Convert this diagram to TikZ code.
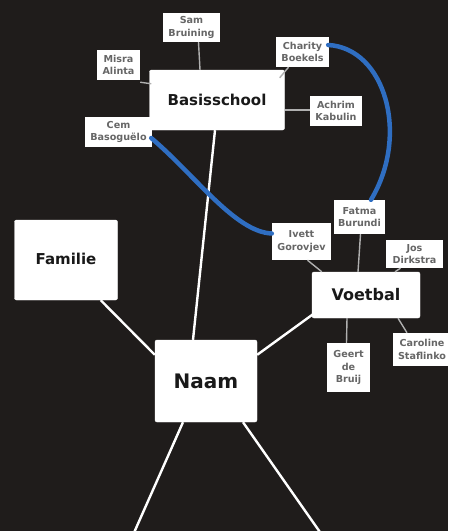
\documentclass[tikz,border=0pt]{standalone}
\usepackage{fontspec}
\setmainfont{DejaVu Sans}
\usetikzlibrary{calc}
\definecolor{bg}{HTML}{1F1C1B}
\definecolor{linkblue}{HTML}{2F6EC2}
\definecolor{labelgray}{HTML}{666666}
\definecolor{thin}{HTML}{B0B0B0}
\tikzset{
  bigbox/.style={fill=white, draw=white, rounded corners=2pt, inner sep=0pt, text=black!90, font=\bfseries},
  namebox/.style={fill=white, draw=none, inner sep=0pt, align=center, text=labelgray,
    font=\bfseries\fontsize{9.6}{12.5}\selectfont},
  mainline/.style={draw=white, line width=2.4pt},
  subline/.style={draw=thin, line width=1.4pt},
  bluelink/.style={draw=linkblue, line width=4.5pt, line cap=round}
}
\begin{document}
\begin{tikzpicture}[x=1pt,y=-1pt]
\useasboundingbox[fill=bg] (0,0) rectangle (448,531);
% main boxes
\node[bigbox, minimum width=135pt, minimum height=60pt, font=\bfseries\fontsize{15}{18}\selectfont] (basis) at (217,100) {Basisschool};
\node[bigbox, minimum width=103pt, minimum height=80pt, font=\bfseries\fontsize{15}{18}\selectfont] (fam) at (66,260) {\raisebox{2pt}{Familie}};
\node[bigbox, minimum width=108pt, minimum height=46pt, font=\bfseries\fontsize{16}{19}\selectfont] (voet) at (366,295) {Voetbal};
\node[bigbox, minimum width=102pt, minimum height=82pt, font=\bfseries\fontsize{20}{24}\selectfont] (naam) at (206,381) {Naam};
% name boxes
\node[namebox, minimum width=57pt, minimum height=29pt] (sam) at (191.5,27.5) {Sam\\Bruining};
\node[namebox, minimum width=43pt, minimum height=30pt] (misra) at (118.5,65) {Misra\\Alinta};
\node[namebox, minimum width=53pt, minimum height=30pt] (char) at (302.5,52) {Charity\\Boekels};
\node[namebox, minimum width=52pt, minimum height=30pt] (achrim) at (336,111) {Achrim\\Kabulin};
\node[namebox, minimum width=67pt, minimum height=30pt] (cem) at (118.5,132) {Cem\\Basoguëlo};
\node[namebox, minimum width=51pt, minimum height=34pt] (fatma) at (359.5,217) {Fatma\\Burundi};
\node[namebox, minimum width=59pt, minimum height=37pt] (ivett) at (301.5,241.5) {Ivett\\Gorovjev};
\node[namebox, minimum width=57pt, minimum height=28pt] (jos) at (414.5,254) {Jos\\Dirkstra};
\node[namebox, minimum width=43pt, minimum height=49pt] (geert) at (348.5,367.5) {Geert\\de\\Bruij};
\node[namebox, minimum width=59pt, minimum height=33pt] (car) at (422,349.5) {Caroline\\Staflinko};
% free ends
\coordinate (offL) at (133,535);
\coordinate (offR) at (322,535);
% main connectors
\draw[mainline] ([xshift=-2pt]basis.south) -- ([xshift=-13pt]naam.north);
\draw[mainline] ([xshift=-17pt]fam.south east) -- ([yshift=-15pt]naam.north west);
\draw[mainline] ([yshift=-15pt]naam.north east) -- ([xshift=4pt,yshift=6pt]voet.south west);
\draw[mainline] ([xshift=-23pt]naam.south) -- (offL);
\draw[mainline] ([xshift=37pt]naam.south) -- (offR);
% sub connectors
\draw[subline] ([yshift=-2pt]misra.south east) -- ([xshift=2pt,yshift=-14pt]basis.north west);
\draw[subline] ([xshift=7pt]sam.south) -- ([xshift=-17pt]basis.north);
\draw[subline] ([xshift=-14pt]char.south) -- ([xshift=-5pt,yshift=-8pt]basis.north east);
\draw[subline] ([yshift=1pt]achrim.west) -- ([yshift=-10pt]basis.east);
\draw[subline] ([xshift=6pt]ivett.south) -- ([xshift=10pt]voet.north west);
\draw[subline] ([xshift=1pt]fatma.south) -- ([xshift=-8pt]voet.north);
\draw[subline] ([xshift=-14pt]jos.south) -- ([xshift=29pt]voet.north);
\draw[subline] ([xshift=-19pt]voet.south) -- ([xshift=-2pt]geert.north);
\draw[subline] ([xshift=32pt]voet.south) -- ([xshift=-15pt]car.north);
% blue links
\draw[bluelink] ([xshift=-1pt,yshift=-6pt]cem.east) .. controls (195,175) and (235,232) .. ([yshift=8pt]ivett.west);
\draw[bluelink] ([xshift=-1pt,yshift=7pt]char.east) .. controls (385,48) and (410,135) .. ([xshift=11.5pt]fatma.north);
\end{tikzpicture}
\end{document}
